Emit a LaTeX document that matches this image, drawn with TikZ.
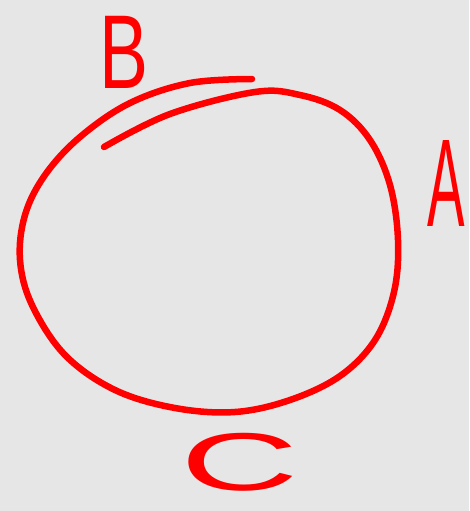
\documentclass[tikz,border=0pt]{standalone}
\usepackage{fontspec}
\setmainfont{Liberation Sans}
\definecolor{bg}{HTML}{E6E6E6}
\definecolor{ink}{HTML}{FF0000}
\tikzset{
  stroke/.style={draw=ink, line width=6.5pt, line cap=round, line join=round},
  letter/.style={text=ink, inner sep=0pt, font=\fontsize{#1}{#1}\selectfont},
}
\begin{document}
\begin{tikzpicture}[x=1pt,y=-1pt]
\fill[bg] (0,0) rectangle (469,511);
\useasboundingbox (0,0) rectangle (469,511);
% outer loop
\draw[stroke] plot[smooth, tension=0.6] coordinates {
  (104,147) (170,114) (255,92) (300,95) (340,110) (370,140) (390,185)
  (398,240) (394,292) (375,340) (340,376) (290,400) (235,412) (175,408)
  (115,390) (65,355) (32,305) (20,260) (25,215) (45,175) (80,137)
  (130,103) (190,83) (252,79)};
% letters
\node[letter=105] (B) at (124,52) {\scalebox{0.7}[1]{B}};
\node[letter=125] (A) at (446,183) {\scalebox{0.45}[1]{A}};
\node[letter=82] (C) at (240,462) {\scalebox{2}[1]{C}};
\end{tikzpicture}
\end{document}
